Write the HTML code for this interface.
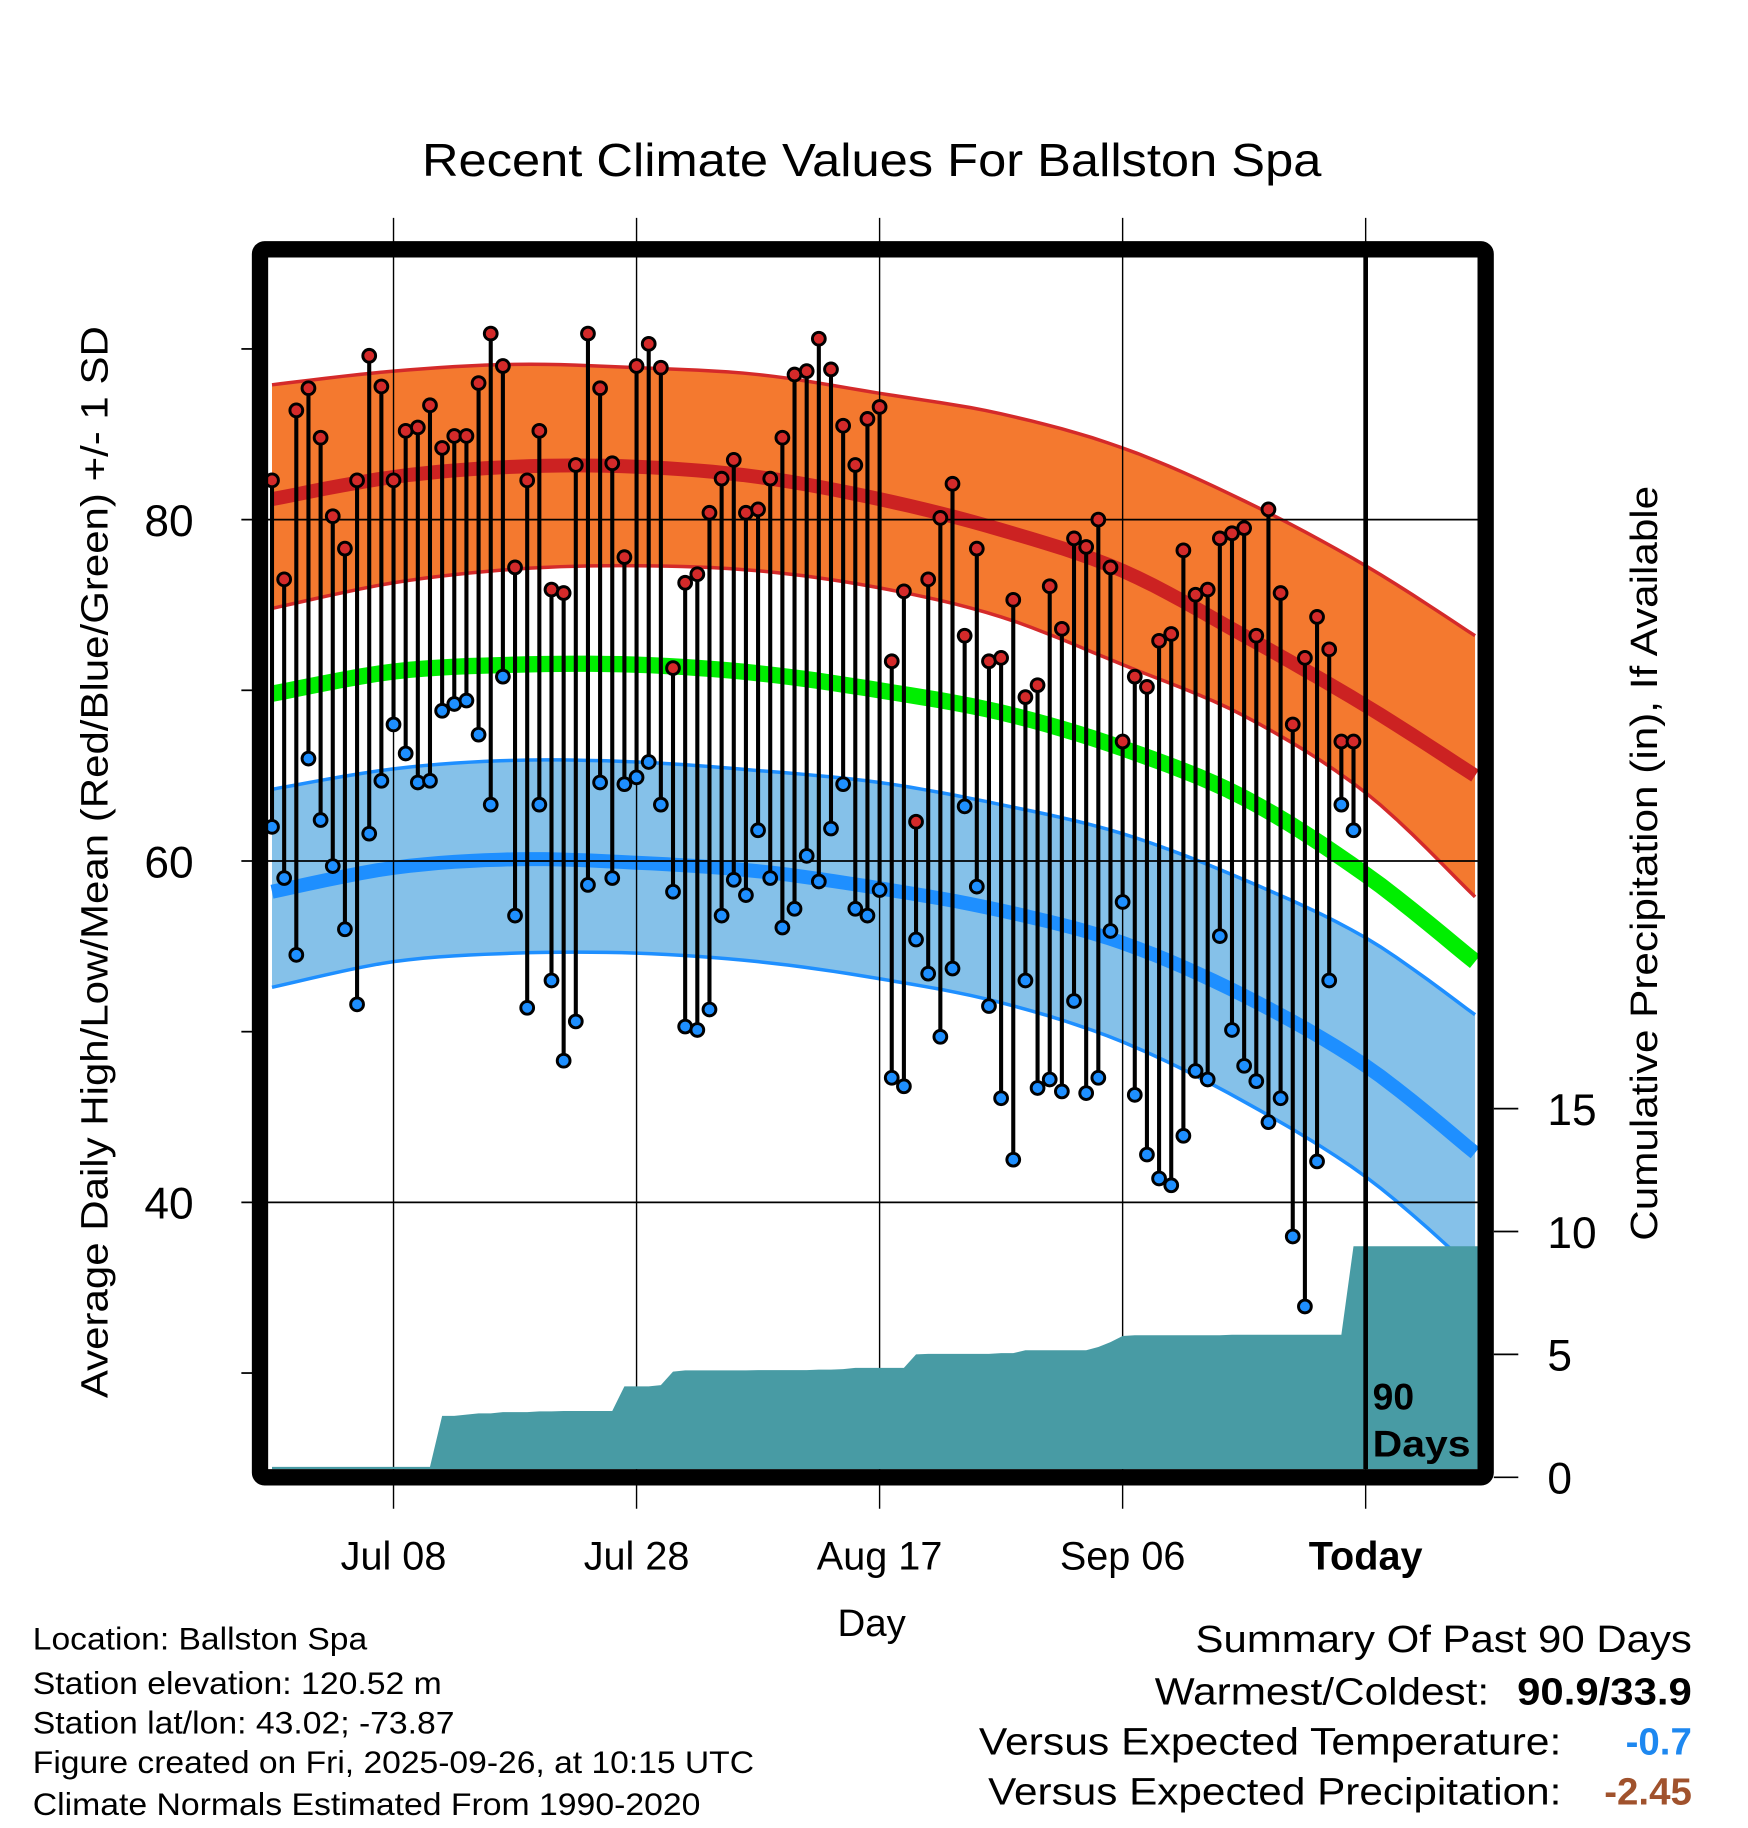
<!DOCTYPE html>
<html><head><meta charset="utf-8"><style>
html,body{margin:0;padding:0;background:#fff;}
svg{display:block;font-family:"Liberation Sans",sans-serif;}
</style></head><body>
<svg id="chart" width="1748" height="1828" viewBox="0 0 1500 1569" xmlns="http://www.w3.org/2000/svg">
<defs><clipPath id="plotclip"><rect x="230" y="221" width="1038" height="1040"/></clipPath></defs>
<text x="748" y="151" font-size="40" text-anchor="middle" textLength="772" lengthAdjust="spacingAndGlyphs">Recent Climate Values For Ballston Spa</text>
<g id="bands" clip-path="url(#plotclip)"></g>
<g id="grid"></g>
<g id="marks"></g>
<g id="axes"></g>
<text transform="translate(92,740) rotate(-90)" font-size="33" text-anchor="middle" textLength="920" lengthAdjust="spacingAndGlyphs">Average Daily High/Low/Mean (Red/Blue/Green) +/- 1 SD</text>
<text transform="translate(1422,741) rotate(-90)" font-size="33" text-anchor="middle" textLength="648" lengthAdjust="spacingAndGlyphs">Cumulative Precipitation (in), If Available</text>
<text x="748" y="1404" font-size="33" text-anchor="middle">Day</text>
<g font-size="27">
<text x="28" y="1416" textLength="287" lengthAdjust="spacingAndGlyphs">Location: Ballston Spa</text>
<text x="28" y="1454" textLength="351" lengthAdjust="spacingAndGlyphs">Station elevation: 120.52 m</text>
<text x="28" y="1488" textLength="362" lengthAdjust="spacingAndGlyphs">Station lat/lon: 43.02; -73.87</text>
<text x="28" y="1522" textLength="619" lengthAdjust="spacingAndGlyphs">Figure created on Fri, 2025-09-26, at 10:15 UTC</text>
<text x="28" y="1558" textLength="573" lengthAdjust="spacingAndGlyphs">Climate Normals Estimated From 1990-2020</text>
</g>
<g font-size="33">
<text x="1452" y="1418" text-anchor="end" textLength="426" lengthAdjust="spacingAndGlyphs">Summary Of Past 90 Days</text>
<text x="1278" y="1463" text-anchor="end" textLength="287" lengthAdjust="spacingAndGlyphs">Warmest/Coldest:</text>
<text x="1452" y="1463" text-anchor="end" font-weight="bold" textLength="150" lengthAdjust="spacingAndGlyphs">90.9/33.9</text>
<text x="1340" y="1506" text-anchor="end" textLength="500" lengthAdjust="spacingAndGlyphs">Versus Expected Temperature:</text>
<text x="1452" y="1506" text-anchor="end" font-weight="bold" fill="#1e88f0">-0.7</text>
<text x="1340" y="1549" text-anchor="end" textLength="492" lengthAdjust="spacingAndGlyphs">Versus Expected Precipitation:</text>
<text x="1452" y="1549" text-anchor="end" font-weight="bold" fill="#a0522d">-2.45</text>
</g>
</svg>
<script>
// normals sampled at these day offsets (relative to today)
const normDays = [-90,-80,-70,-60,-50,-40,-30,-20,-10,0,9];
const highMean = [81.2,82.5,83.1,83.1,82.5,81.2,79.4,77.0,73.2,69.1,65.0];
const highUpper = [87.9,88.7,89.1,88.9,88.5,87.4,86.2,84.2,81.1,77.3,73.2];
const highLower = [74.8,76.3,77.1,77.3,77.0,76.0,74.3,71.5,68.5,64.0,57.9];
const meanTemp = [69.8,71.1,71.5,71.5,71.0,70.0,68.7,66.6,63.7,59.2,54.1];
const lowMean = [58.2,59.6,60.1,59.9,59.4,58.4,57.1,55.2,52.1,48.0,42.9];
const lowUpper = [64.2,65.4,65.9,65.8,65.3,64.6,63.3,61.6,58.9,55.5,51.0];
const lowLower = [52.6,54.1,54.6,54.6,54.1,53.1,51.7,49.4,45.9,41.5,36.0];
// daily observations, day -90 .. -1
const highs = [82.3,76.5,86.4,87.7,84.8,80.2,78.3,82.3,89.6,87.8,82.3,85.2,85.4,86.7,84.2,84.9,84.9,88.0,90.9,89.0,77.2,82.3,85.2,75.9,75.7,83.2,90.9,87.7,83.3,77.8,89.0,90.3,88.9,71.3,76.3,76.8,80.4,82.4,83.5,80.4,80.6,82.4,84.8,88.5,88.7,90.6,88.8,85.5,83.2,85.9,86.6,71.7,75.8,62.3,76.5,80.1,82.1,73.2,78.3,71.7,71.9,75.3,69.6,70.3,76.1,73.6,78.9,78.4,80.0,77.2,67.0,70.8,70.2,72.9,73.3,78.2,75.6,75.9,78.9,79.2,79.5,73.2,80.6,75.7,68.0,71.9,74.3,72.4,67.0,67.0];
const lows = [62.0,59.0,54.5,66.0,62.4,59.7,56.0,51.6,61.6,64.7,68.0,66.3,64.6,64.7,68.8,69.2,69.4,67.4,63.3,70.8,56.8,51.4,63.3,53.0,48.3,50.6,58.6,64.6,59.0,64.5,64.9,65.8,63.3,58.2,50.3,50.1,51.3,56.8,58.9,58.0,61.8,59.0,56.1,57.2,60.3,58.8,61.9,64.5,57.2,56.8,58.3,47.3,46.8,55.4,53.4,49.7,53.7,63.2,58.5,51.5,46.1,42.5,53.0,46.7,47.2,46.5,51.8,46.4,47.3,55.9,57.6,46.3,42.8,41.4,41.0,43.9,47.7,47.2,55.6,50.1,48.0,47.1,44.7,46.1,38.0,33.9,42.4,53.0,63.3,61.8];
const precip = [0,0,0,0,0,0.05,0.05,0.05,0.05,0.05,0.05,0.05,0.05,0.1,2.5,2.5,2.55,2.6,2.6,2.65,2.65,2.65,2.68,2.68,2.7,2.7,2.7,2.7,2.7,3.7,3.7,3.7,3.75,4.3,4.35,4.35,4.35,4.35,4.35,4.35,4.36,4.36,4.36,4.36,4.36,4.38,4.38,4.4,4.45,4.45,4.45,4.45,4.45,5.0,5.02,5.02,5.02,5.02,5.02,5.02,5.05,5.05,5.17,5.17,5.17,5.17,5.17,5.17,5.3,5.5,5.75,5.78,5.78,5.78,5.78,5.78,5.78,5.78,5.78,5.8,5.8,5.8,5.8,5.8,5.8,5.8,5.8,5.8,5.8,9.4];
const xTickDays = [-80,-60,-40,-20,0];
const xTickLabels = ["Jul 08","Jul 28","Aug 17","Sep 06","Today"];
const yTicks = [80,60,40];
const yMinorTicks = [90,70,50,30];
const pTicks = [0,5,10,15];

const NS="http://www.w3.org/2000/svg";
const X=d=>1172+d*10.43;
const Y=t=>446-(t-80)*14.65;
const P=v=>1268-v*21.1;
function el(tag,attrs,parent){const e=document.createElementNS(NS,tag);for(const k in attrs)e.setAttribute(k,attrs[k]);parent.appendChild(e);return e;}
const bands=document.getElementById('bands'),grid=document.getElementById('grid'),marks=document.getElementById('marks'),axes=document.getElementById('axes');
// smooth curve points (Catmull-Rom sampled)
function smooth(arr){
  const p=normDays.map((d,i)=>[X(d),Y(arr[i])]);const out=[];
  for(let i=0;i<p.length-1;i++){
    const p0=p[Math.max(0,i-1)],p1=p[i],p2=p[i+1],p3=p[Math.min(p.length-1,i+2)];
    for(let s=0;s<8;s++){const t=s/8,t2=t*t,t3=t2*t;
      const f=(a,b,c,d)=>0.5*((2*b)+(-a+c)*t+(2*a-5*b+4*c-d)*t2+(-a+3*b-3*c+d)*t3);
      out.push([f(p0[0],p1[0],p2[0],p3[0]),f(p0[1],p1[1],p2[1],p3[1])]);}
  }
  out.push(p[p.length-1]);return out;
}
const str=a=>a.map(q=>q[0].toFixed(1)+','+q[1].toFixed(1)).join(' ');
function bandPts(up,lo){return str(smooth(up))+' '+str(smooth(lo).reverse());}
let e;
e=el('polygon',{points:bandPts(highUpper,highLower),fill:'#f4792f'},bands);

e=el('polygon',{points:bandPts(lowUpper,lowLower),fill:'#85c1e9'},bands);

[[highUpper,'#d42a2a',3,'high-upper-line'],[highLower,'#d42a2a',3,'high-lower-line'],[lowUpper,'#1e8fff',3,'low-upper-line'],[lowLower,'#1e8fff',3,'low-lower-line'],[highMean,'#cc2222',12,'normal-high-line'],[meanTemp,'#00ee00',14,'normal-mean-line'],[lowMean,'#1e8fff',12,'normal-low-line']].forEach(a=>{
 e=el('polyline',{points:str(smooth(a[0])),fill:'none',stroke:a[1],'stroke-width':a[2]},bands);
 
});
yTicks.forEach(t=>{e=el('line',{x1:207,x2:1268,y1:Y(t),y2:Y(t),stroke:'#000','stroke-width':1.5},grid);
 
 e=el('text',{x:166,y:Y(t)+14,'font-size':38,'text-anchor':'end'},axes);e.textContent=t;
 });
yMinorTicks.forEach(t=>{e=el('line',{x1:207,x2:218,y1:Y(t),y2:Y(t),stroke:'#000','stroke-width':1.5},axes);
 });
xTickDays.forEach((d,i)=>{e=el('line',{x1:X(d),x2:X(d),y1:187,y2:1295,stroke:'#000','stroke-width':1.2},grid);
 
 e=el('text',{x:X(d),y:1347,'font-size':34,'text-anchor':'middle','font-weight':i===4?'bold':'normal'},axes);e.textContent=xTickLabels[i];
 });
let pp=[X(-90)+','+1261];precip.forEach((v,i)=>pp.push(X(i-90)+','+Math.min(1259,P(v))));
pp.push('1268,'+P(precip[precip.length-1]));pp.push('1268,1261');
e=el('polygon',{points:pp.join(' '),fill:'#489ba4'},marks);

highs.forEach((h,i)=>{const x=X(i-90);
 e=el('line',{x1:x,x2:x,y1:Y(h),y2:Y(lows[i]),stroke:'#000','stroke-width':3.5},marks);
 });
highs.forEach((h,i)=>{const x=X(i-90);
 e=el('circle',{cx:x,cy:Y(h),r:5.5,fill:'#d42a2a',stroke:'#000','stroke-width':2.5},marks);
 
 e=el('circle',{cx:x,cy:Y(lows[i]),r:5.5,fill:'#1e8fff',stroke:'#000','stroke-width':2.5},marks);
 });
e=el('line',{x1:X(0),x2:X(0),y1:221,y2:1261,stroke:'#000','stroke-width':4},marks);

e=el('text',{x:1178,y:1210,'font-size':32,'font-weight':'bold'},marks);e.textContent='90';

e=el('text',{x:1178,y:1250,'font-size':32,'font-weight':'bold',textLength:84,lengthAdjust:'spacingAndGlyphs'},marks);e.textContent='Days';

e=el('rect',{x:223,y:214,width:1052,height:1054,fill:'none',stroke:'#000','stroke-width':14,rx:4},axes);

pTicks.forEach(v=>{e=el('line',{x1:1282,x2:1303,y1:P(v),y2:P(v),stroke:'#000','stroke-width':1.5},axes);
 
 e=el('text',{x:1328,y:P(v)+14,'font-size':38},axes);e.textContent=v;
 });
</script>
</body></html>
